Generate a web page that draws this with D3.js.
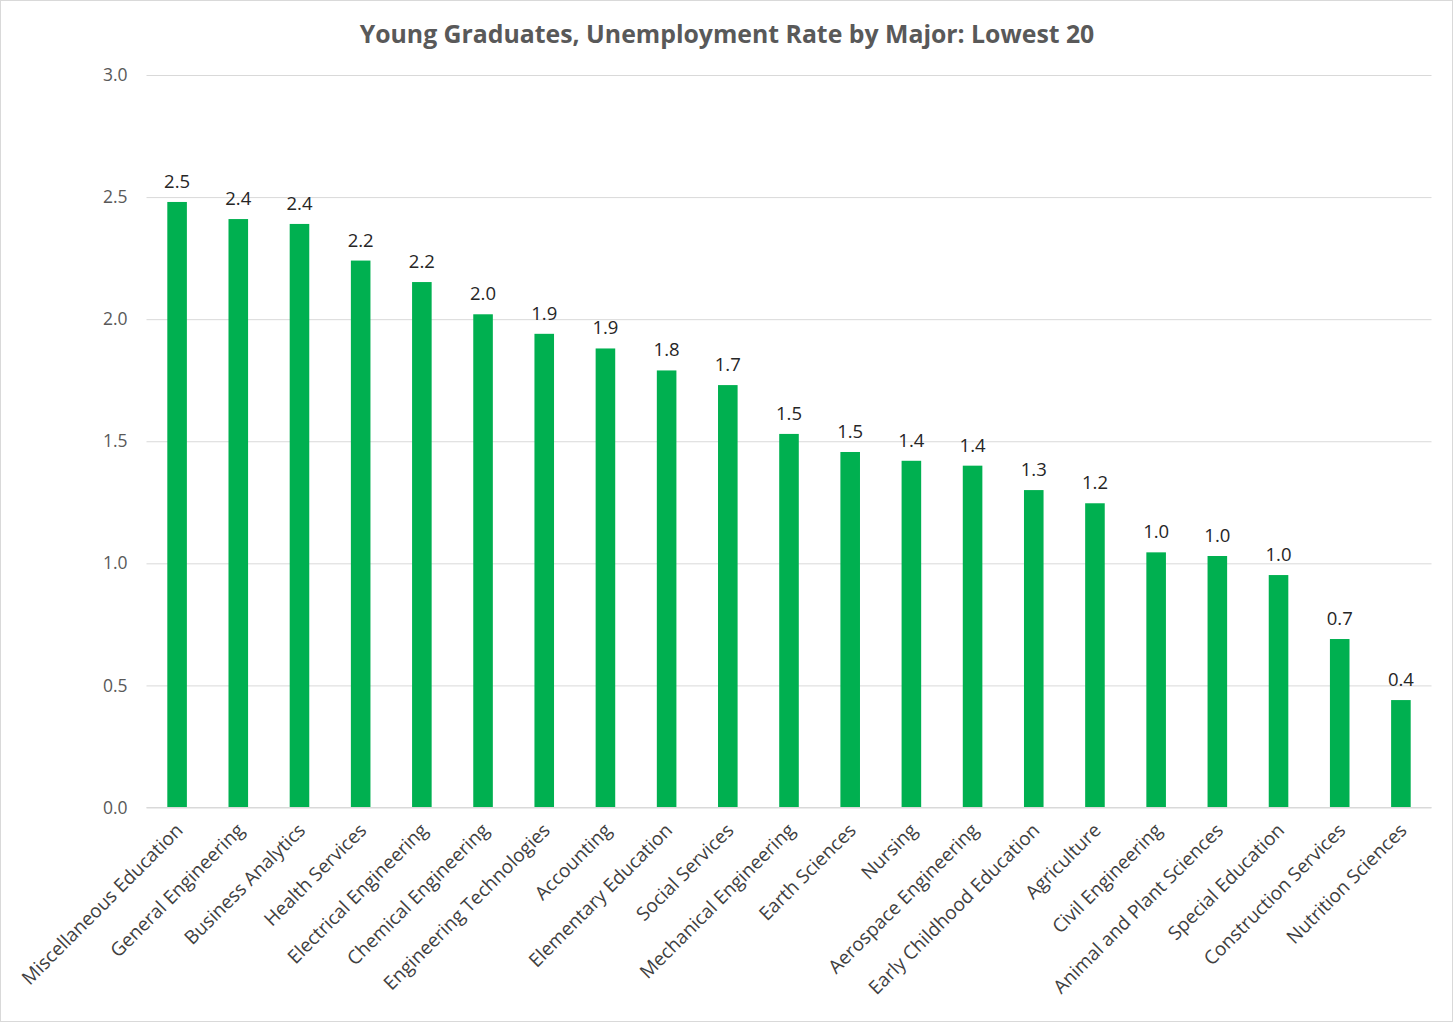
<!DOCTYPE html>
<html><head><meta charset="utf-8">
<script src="https://cdn.jsdelivr.net/npm/d3@7"></script>
<style>body{margin:0;background:#fff}svg{display:block}</style>
</head><body>
<svg id="c" width="1456" height="1025"></svg>
<script>
const categories = ["Miscellaneous Education","General Engineering","Business Analytics","Health Services","Electrical Engineering","Chemical Engineering","Engineering Technologies","Accounting","Elementary Education","Social Services","Mechanical Engineering","Earth Sciences","Nursing","Aerospace Engineering","Early Childhood Education","Agriculture","Civil Engineering","Animal and Plant Sciences","Special Education","Construction Services","Nutrition Sciences"];
const values = [2.48,2.41,2.39,2.24,2.152,2.02,1.94,1.88,1.79,1.73,1.53,1.456,1.42,1.40,1.30,1.246,1.045,1.03,0.952,0.69,0.44];
const yTicks = [0,0.5,1.0,1.5,2.0,2.5,3.0];
const title = "Young Graduates, Unemployment Rate by Major: Lowest 20";

const svg = d3.select("#c");
const W=1456,H=1025;
const m={l:146.5,r:1431.5,t:75,b:807.5};
svg.append("rect").attr("x",0.5).attr("y",0.5).attr("width",W-4).attr("height",H-4).attr("fill","#fff").attr("stroke","#d9d9d9");

const x=d3.scaleBand().domain(categories).range([m.l,m.r]).paddingInner(0.68).paddingOuter(0.34);
const y=d3.scaleLinear().domain([0,3]).range([m.b,m.t]);

const font="'Open Sans', 'Noto Sans', sans-serif";
const ya=svg.append("g").attr("transform",`translate(${m.l},0)`)
  .call(d3.axisLeft(y).tickValues(yTicks).tickFormat(d3.format(".1f")).tickSize(-(m.r-m.l)).tickPadding(19));
ya.select(".domain").remove();
ya.selectAll(".tick line").attr("stroke","#d9d9d9").attr("stroke-width",1);
ya.selectAll(".tick text").attr("fill","#595959").style("font-family",font).style("font-size","17.5px");

svg.append("g").selectAll("rect").data(values).join("rect")
  .attr("x",(d,i)=>x(categories[i])).attr("width",x.bandwidth())
  .attr("y",d=>y(d)).attr("height",d=>y(0)-y(d)).attr("fill","#00b050");

svg.append("line").attr("x1",m.l).attr("x2",m.r).attr("y1",y(0)).attr("y2",y(0)).attr("stroke","#d9d9d9");

svg.append("g").selectAll("text").data(values).join("text")
  .attr("x",(d,i)=>x(categories[i])+x.bandwidth()/2).attr("y",d=>y(d)-14)
  .attr("text-anchor","middle").attr("fill","#262626").style("font-family",font).style("font-size","18.5px")
  .text(d=>d.toFixed(1));

svg.append("g").selectAll("text").data(categories).join("text")
  .attr("transform",d=>`translate(${x(d)+x.bandwidth()/2+7},${m.b+24}) rotate(-45)`)
  .attr("text-anchor","end").attr("fill","#404040").style("font-family",font).style("font-size","19px")
  .text(d=>d);

const t=svg.append("text").attr("x",727).attr("y",43).attr("text-anchor","middle")
  .attr("fill","#595959").style("font-family",font).style("font-weight","bold").style("font-size","24px").text(title);
const tw=t.node().getComputedTextLength();
t.style("font-size",(24*735/tw)+"px");
</script>
</body></html>
